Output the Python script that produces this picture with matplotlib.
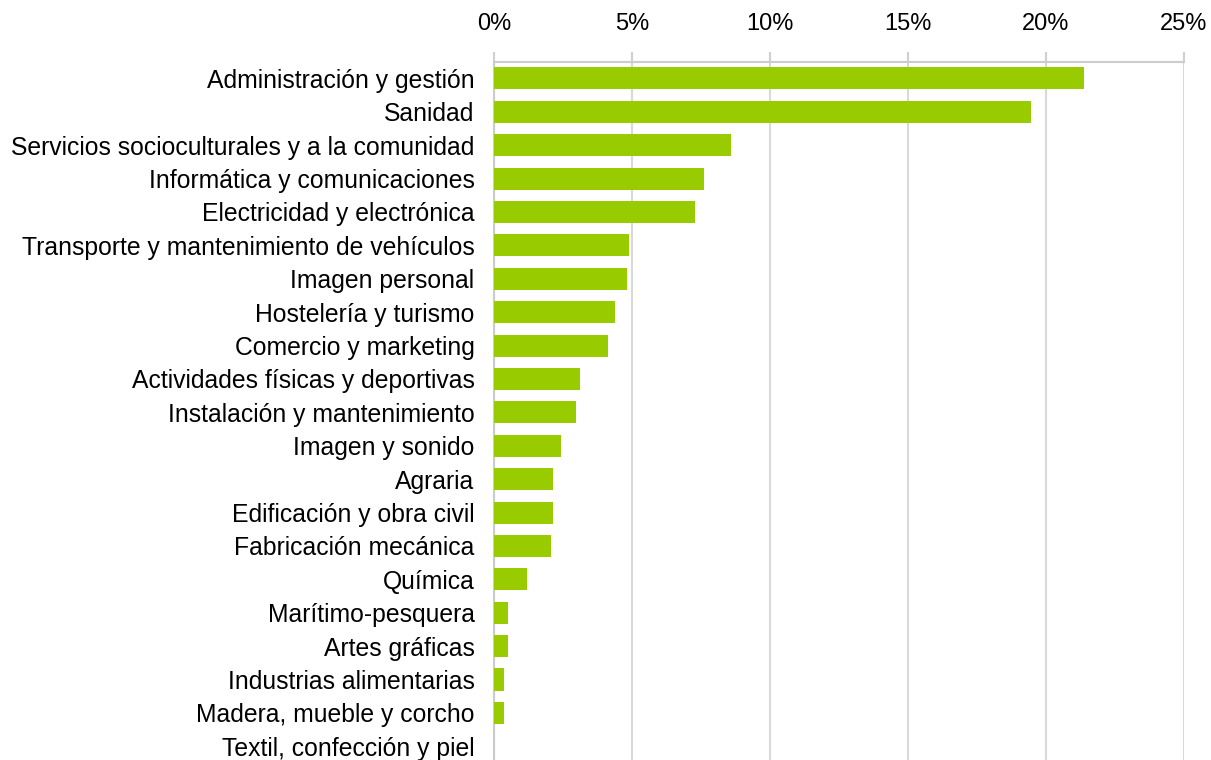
import matplotlib.pyplot as plt
from matplotlib.ticker import FuncFormatter

plt.rcParams['font.family'] = ['Liberation Sans', 'DejaVu Sans']

# Familias profesionales (orden del gráfico, de arriba a abajo)
familias = [
    'Administración y gestión',
    'Sanidad',
    'Servicios socioculturales y a la comunidad',
    'Informática y comunicaciones',
    'Electricidad y electrónica',
    'Transporte y mantenimiento de vehículos',
    'Imagen personal',
    'Hostelería y turismo',
    'Comercio y marketing',
    'Actividades físicas y deportivas',
    'Instalación y mantenimiento',
    'Imagen y sonido',
    'Agraria',
    'Edificación y obra civil',
    'Fabricación mecánica',
    'Química',
    'Marítimo-pesquera',
    'Artes gráficas',
    'Industrias alimentarias',
    'Madera, mueble y corcho',
    'Textil, confección y piel',
]
porcentajes = [21.38, 19.46, 8.59, 7.61, 7.28, 4.89, 4.82, 4.38, 4.13, 3.12,
               2.97, 2.43, 2.14, 2.14, 2.07, 1.20, 0.51, 0.51, 0.36, 0.36, 0.0]
ticks = [0, 5, 10, 15, 20, 25]

fig = plt.figure(figsize=(12.11, 7.6), dpi=100)
ax = fig.add_axes([494 / 1211, -3 / 760, (1184 - 494) / 1211, (763 - 61.7) / 760])

ypos = list(range(len(familias)))
ax.barh(ypos, porcentajes, height=0.66, color='#99cc00', zorder=3)
ax.set_ylim(len(familias) - 0.5, -0.5)
ax.set_xlim(0, 25)
ax.set_yticks(ypos)
ax.set_yticklabels(familias, fontsize=17.8)
ax.set_xticks(ticks)
ax.xaxis.set_major_formatter(FuncFormatter(lambda v, p: f'{v:.0f}%'))
ax.xaxis.tick_top()
ax.tick_params(axis='x', length=7, color='#d0d0d0', width=1.5, labelsize=17, pad=12)
ax.tick_params(axis='y', length=0, pad=14)
ax.grid(axis='x', color='#d9d9d9', linewidth=1.5, zorder=0)

for s in ['right', 'bottom']:
    ax.spines[s].set_visible(False)
for s in ['top', 'left']:
    ax.spines[s].set_color('#cccccc')
    ax.spines[s].set_linewidth(1.5)

fig.savefig('out.png', dpi=100)
